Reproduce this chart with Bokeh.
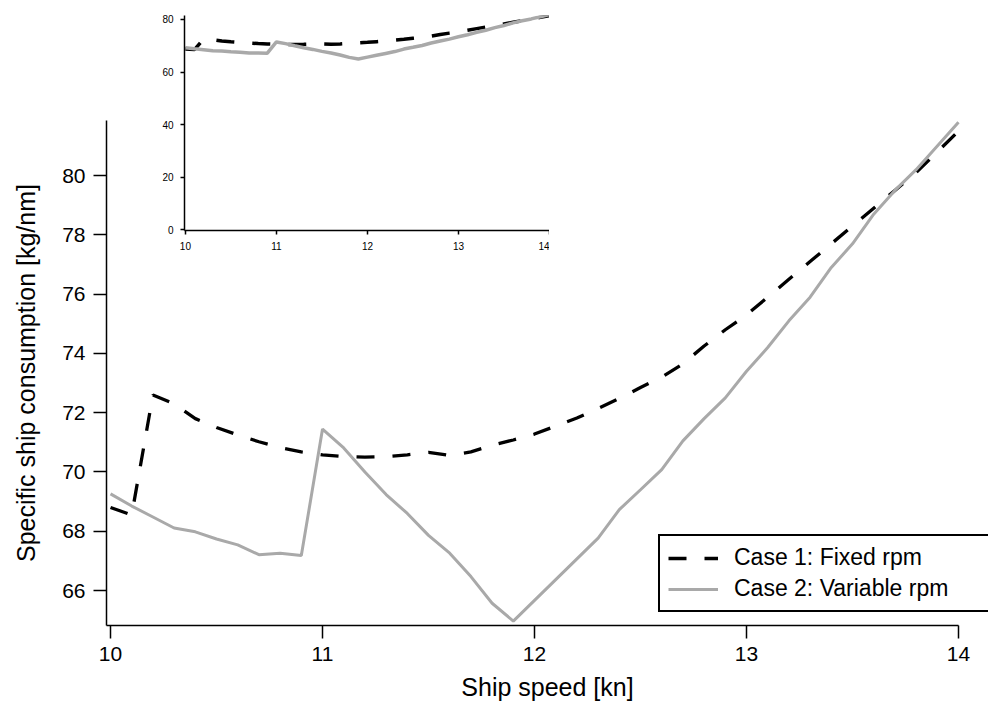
from bokeh.plotting import figure
from bokeh.models import Range1d, FixedTicker, Legend, LegendItem
from bokeh.layouts import column
from bokeh.embed import file_html
from bokeh.resources import INLINE

# ---- data ----
speed = [10.0, 10.1, 10.2, 10.3, 10.4, 10.5, 10.6, 10.7, 10.8, 10.9,
         11.0, 11.1, 11.2, 11.3, 11.4, 11.5, 11.6, 11.7, 11.8, 11.9,
         12.0, 12.1, 12.2, 12.3, 12.4, 12.5, 12.6, 12.7, 12.8, 12.9,
         13.0, 13.1, 13.2, 13.3, 13.4, 13.5, 13.6, 13.7, 13.8, 13.9, 14.0]
case1_fixed = [68.80, 68.55, 72.60, 72.30, 71.80, 71.50, 71.25, 71.02, 70.82, 70.68,
               70.58, 70.52, 70.50, 70.52, 70.58, 70.66, 70.56, 70.68, 70.90, 71.08,
               71.28, 71.55, 71.82, 72.14, 72.48, 72.85, 73.20, 73.65, 74.25, 74.80,
               75.30, 75.90, 76.50, 77.10, 77.70, 78.30, 78.90, 79.50, 80.10, 80.80, 81.50]
case2_variable = [69.26, 68.85, 68.48, 68.11, 67.98, 67.74, 67.54, 67.21, 67.26, 67.18,
                  71.45, 70.81, 70.00, 69.24, 68.60, 67.86, 67.26, 66.47, 65.57, 64.97,
                  65.67, 66.37, 67.07, 67.77, 68.73, 69.40, 70.08, 71.05, 71.80, 72.50,
                  73.40, 74.20, 75.10, 75.90, 76.90, 77.70, 78.70, 79.50, 80.20, 81.00, 81.80]
x_ticks = [10, 11, 12, 13, 14]
y_ticks_main = [66, 68, 70, 72, 74, 76, 78, 80]
y_ticks_inset = [0, 20, 40, 60, 80]
labels = ["Case 1: Fixed rpm", "Case 2: Variable rpm"]

FONT = "Liberation Sans"
GRAY = "#a9a9a9"
DASH = "18 18"
LEFT = 106  # shared left border of every panel in the column


def style_axes(p, tick_size, tick_out, standoff, lw):
    p.xgrid.visible = False
    p.ygrid.visible = False
    p.outline_line_color = None
    for ax in (p.xaxis[0], p.yaxis[0]):
        ax.axis_line_width = lw
        ax.axis_line_color = "black"
        ax.major_tick_line_width = lw
        ax.major_tick_line_color = "black"
        ax.major_tick_in = 0
        ax.major_tick_out = tick_out
        ax.minor_tick_line_color = None
        ax.major_label_text_font = FONT
        ax.major_label_text_font_size = tick_size
        ax.major_label_text_color = "black"
        ax.major_label_standoff = standoff
        ax.axis_label_text_font = FONT
        ax.axis_label_text_font_style = "normal"
        ax.axis_label_text_color = "black"


# ---- main plot (frame runs to the page edge; the x axis line stops at 14) ----
main = figure(width=988, height=706, output_backend="svg", toolbar_location=None,
              x_range=Range1d(9.981, 14.1415), y_range=Range1d(64.82, 81.86),
              min_border_left=LEFT, min_border_right=0, min_border_top=120,
              min_border_bottom=81)
main.background_fill_alpha = 0
main.border_fill_alpha = 0
style_axes(main, "21px", 13, 8, 1.5)
main.xaxis.ticker = FixedTicker(ticks=x_ticks)
main.xaxis.bounds = (9.981, 14.0)
main.yaxis.ticker = FixedTicker(ticks=y_ticks_main)
main.xaxis.axis_label = "Ship speed [kn]"
main.yaxis.axis_label = "Specific ship consumption [kg/nm]"
main.xaxis.axis_label_text_font_size = "25px"
main.yaxis.axis_label_text_font_size = "25px"
main.xaxis.axis_label_standoff = 9
main.yaxis.axis_label_standoff = 19

main.line(speed, case1_fixed, line_color="black", line_width=3.3, line_dash=DASH)
main.line(speed, case2_variable, line_color=GRAY, line_width=3)

# ---- inset ----
inset = figure(width=471, height=262, output_backend="svg", toolbar_location=None,
               x_range=Range1d(9.99, 14.0), y_range=Range1d(-0.3, 81.5),
               min_border_left=LEFT, min_border_right=0, min_border_top=15,
               min_border_bottom=32)
inset.background_fill_alpha = 0
inset.border_fill_alpha = 0
style_axes(inset, "10px", 4, 7, 1.5)
inset.xaxis.ticker = FixedTicker(ticks=x_ticks)
inset.yaxis.ticker = FixedTicker(ticks=y_ticks_inset)
inset.line(speed, case1_fixed, line_color="black", line_width=3.5, line_dash=DASH)
inset.line(speed, case2_variable, line_color=GRAY, line_width=3.5)
inset.styles = {"position": "absolute", "left": "78px", "top": "0px"}

# ---- legend panel (runs off the right edge of the page, as in the original) ----
leg = figure(width=436, height=82, output_backend="svg", toolbar_location=None,
             x_axis_type=None, y_axis_type=None,
             x_range=Range1d(0, 1), y_range=Range1d(0, 1),
             min_border_left=LEFT, min_border_right=0, min_border_top=0,
             min_border_bottom=0)
leg.xgrid.visible = False
leg.ygrid.visible = False
leg.outline_line_color = None
leg.background_fill_alpha = 0
leg.border_fill_alpha = 0
# the series lie outside this panel's ranges: only their legend samples show
k1 = leg.line(speed, case1_fixed, line_color="black", line_width=3.3, line_dash=DASH)
k2 = leg.line(speed, case2_variable, line_color=GRAY, line_width=3)
legend = Legend(items=[LegendItem(label=labels[0], renderers=[k1]),
                       LegendItem(label=labels[1], renderers=[k2])],
                location="top_left")
legend.label_text_font = FONT
legend.label_text_font_size = "23px"
legend.label_text_color = "black"
legend.label_height = 24
legend.glyph_height = 24
legend.glyph_width = 50
legend.label_width = 260
legend.label_standoff = 16
legend.spacing = 4
legend.padding = 8
legend.margin = 0
legend.border_line_color = "black"
legend.border_line_alpha = 1
legend.border_line_width = 2.5
legend.background_fill_color = "white"
legend.background_fill_alpha = 1
leg.add_layout(legend)
leg.styles = {"position": "absolute", "left": "552px", "top": "534px"}

layout = column(main, inset, leg)
layout.margin = 0
main.margin = 0
inset.margin = 0
leg.margin = 0

with open("out.html", "w") as f:
    f.write(file_html(layout, INLINE))
